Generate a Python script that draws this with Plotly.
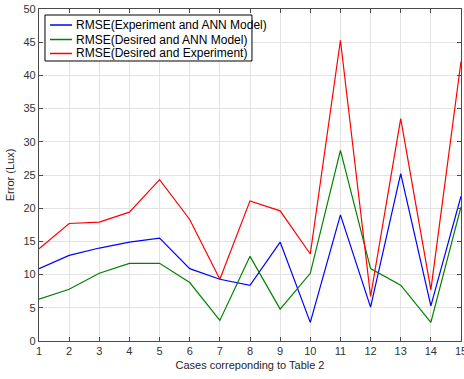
import plotly.graph_objects as go

cases = list(range(1, 16))
rmse_exp_ann = [10.9, 12.9, 14.0, 14.9, 15.5, 10.9, 9.3, 8.4, 14.9, 2.8, 19.0, 5.1, 25.2, 5.3, 21.8]
rmse_des_ann = [6.3, 7.8, 10.2, 11.7, 11.7, 8.8, 3.1, 12.75, 4.8, 10.2, 28.7, 10.9, 8.4, 2.8, 20.2]
rmse_des_exp = [13.9, 17.7, 17.9, 19.4, 24.3, 18.3, 9.3, 21.1, 19.6, 13.1, 45.3, 6.7, 33.5, 7.7, 42.1]

names = ["RMSE(Experiment and ANN Model)", "RMSE(Desired and ANN Model)", "RMSE(Desired and Experiment)"]
colors = ["#0000ff", "#008000", "#ff0000"]

FONT = "Liberation Sans, Arial, sans-serif"

fig = go.Figure()
for name, vals, c in zip(names, [rmse_exp_ann, rmse_des_ann, rmse_des_exp], colors):
    fig.add_trace(go.Scatter(x=cases, y=vals, mode="lines", name=name,
                             line=dict(color=c, width=1.2), showlegend=False))

axis_common = dict(showgrid=True, gridcolor="#e3e3e3", gridwidth=1,
                   showline=True, linecolor="#4a4a4a", linewidth=1.3,
                   mirror="ticks", ticks="inside", ticklen=4, tickcolor="#4a4a4a",
                   tickfont=dict(family=FONT, size=11, color="#333333"),
                   zeroline=False, automargin=False)

fig.update_layout(
    width=464, height=379,
    margin=dict(l=39, r=3, t=9, b=38, autoexpand=False),
    paper_bgcolor="white", plot_bgcolor="white",
    font=dict(family=FONT, size=11, color="#333333"),
    xaxis=dict(range=[1, 15], tickmode="linear", tick0=1, dtick=1,
               ticklabeloverflow="allow",
               title=dict(text="Cases correponding to Table 2", standoff=4,
                          font=dict(size=11, color="#262626")),
               **axis_common),
    yaxis=dict(range=[0, 50], tickmode="linear", tick0=0, dtick=5,
               title=dict(text="Error (Lux)", standoff=6,
                          font=dict(size=11, color="#262626")),
               **axis_common),
    showlegend=False,
)

# Legend box drawn in the MATLAB style (compact rows)
fig.add_shape(type="rect", xref="paper", yref="paper",
              x0=0.0142, x1=0.5047, y0=0.8434, y1=0.9819,
              line=dict(color="#000000", width=1), fillcolor="white", layer="above")
row_y = [0.9518, 0.9081, 0.866]
for name, c, yy in zip(names, colors, row_y):
    fig.add_shape(type="line", xref="paper", yref="paper",
                  x0=0.026, x1=0.0782, y0=yy, y1=yy,
                  line=dict(color=c, width=1.5), layer="above")
    fig.add_annotation(xref="paper", yref="paper", x=0.0829, y=yy,
                       xanchor="left", yanchor="middle", text=name, showarrow=False,
                       font=dict(family=FONT, size=12, color="#000000"))

fig.write_html("out.html")
